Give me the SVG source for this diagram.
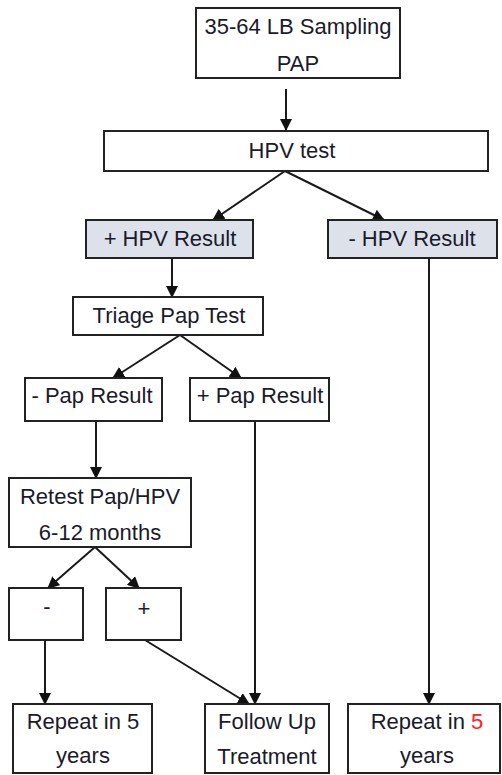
<svg xmlns="http://www.w3.org/2000/svg" width="502" height="775" viewBox="0 0 502 775">
<defs>
<marker id="ah" markerWidth="12" markerHeight="12" viewBox="0 0 12 12" refX="11" refY="6" orient="auto" markerUnits="userSpaceOnUse">
<path d="M0,0 L12,6 L0,12 z" fill="#111"/>
</marker>
<style>
.b{fill:#fff;stroke:#222;stroke-width:2}
.g{fill:#dde2ea;stroke:#222;stroke-width:2}
.t{font-family:"Liberation Sans",Arial,sans-serif;font-size:22px;fill:#1a1a2a;text-anchor:middle}
.c line{stroke:#1a1a1a;stroke-width:2}
.a{marker-end:url(#ah)}
</style>
</defs>
<rect width="502" height="775" fill="#fff"/>
<g class="c">
<line class="a" x1="286" y1="89" x2="286" y2="130"/>
<line class="a" x1="285" y1="171" x2="213" y2="220"/>
<line class="a" x1="285" y1="171" x2="384" y2="220"/>
<line class="a" x1="172" y1="258" x2="172" y2="297"/>
<line class="a" x1="429" y1="258" x2="429" y2="704"/>
<line class="a" x1="180" y1="335" x2="113" y2="378"/>
<line class="a" x1="180" y1="335" x2="241" y2="378"/>
<line class="a" x1="96" y1="421" x2="96" y2="478"/>
<line class="a" x1="255" y1="421" x2="255" y2="704"/>
<line class="a" x1="95" y1="547" x2="48" y2="588"/>
<line class="a" x1="95" y1="547" x2="139" y2="588"/>
<line class="a" x1="45" y1="640" x2="45" y2="704"/>
<line class="a" x1="145" y1="640" x2="249" y2="704"/>
</g>
<g id="start"><rect class="b" x="196" y="8" width="204" height="70"/><text class="t" x="298" y="34">35-64 LB Sampling</text><text class="t" x="298" y="71">PAP</text></g>
<g id="hpv"><rect class="b" x="104" y="131" width="384" height="40"/><text class="t" x="292" y="158">HPV test</text></g>
<g id="hpvpos"><rect class="g" x="86" y="220" width="167" height="38"/><text class="t" x="170" y="246">+ HPV Result</text></g>
<g id="hpvneg"><rect class="g" x="328" y="220" width="169" height="38"/><text class="t" x="412" y="246">- HPV Result</text></g>
<g id="triage"><rect class="b" x="73" y="297" width="190" height="38"/><text class="t" x="169" y="323">Triage Pap Test</text></g>
<g id="papneg"><rect class="b" x="25" y="378" width="137" height="43"/><text class="t" x="92" y="403">- Pap Result</text></g>
<g id="pappos"><rect class="b" x="190" y="378" width="139" height="43"/><text class="t" x="260" y="403">+ Pap Result</text></g>
<g id="retest"><rect class="b" x="9" y="478" width="182" height="69"/><text class="t" x="100" y="504">Retest Pap/HPV</text><text class="t" x="100" y="540">6-12 months</text></g>
<g id="neg"><rect class="b" x="9" y="588" width="74" height="52"/><text class="t" x="47" y="614">-</text></g>
<g id="pos"><rect class="b" x="106" y="588" width="75" height="52"/><text class="t" x="144" y="616">+</text></g>
<g id="repeat1"><rect class="b" x="13" y="704" width="139" height="69"/><text class="t" x="83" y="729">Repeat in 5</text><text class="t" x="83" y="763">years</text></g>
<g id="followup"><rect class="b" x="205" y="704" width="124" height="69"/><text class="t" x="267" y="729">Follow Up</text><text class="t" x="267" y="764">Treatment</text></g>
<g id="repeat2"><rect class="b" x="348" y="704" width="152" height="69"/><text class="t" x="427" y="729">Repeat in <tspan fill="#ff2020">5</tspan></text><text class="t" x="427" y="763">years</text></g>
</svg>
